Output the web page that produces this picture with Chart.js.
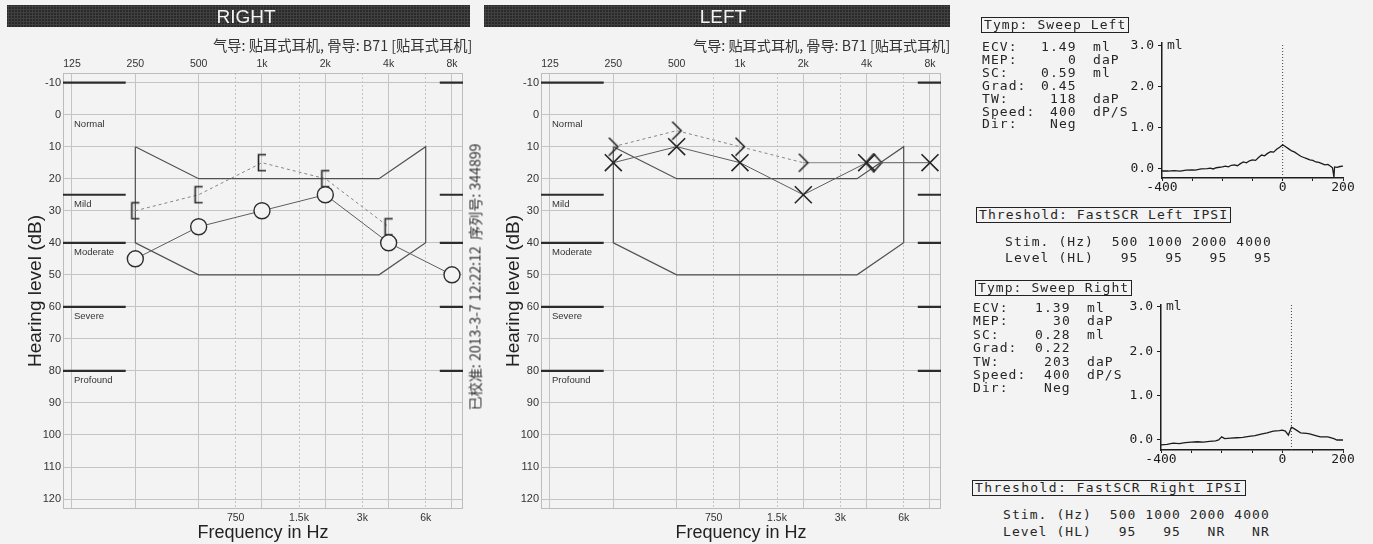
<!DOCTYPE html>
<html lang="zh">
<head>
<meta charset="utf-8">
<title>Audiogram and tympanogram</title>
<script src="https://cdn.jsdelivr.net/npm/chart.js@4.4.1/dist/chart.umd.min.js"></script>
<style>
  html, body { margin: 0; padding: 0; }
  body {
    position: relative; width: 1373px; height: 544px; overflow: hidden;
    background: #f3f3f3; color: #222;
    font-family: "Liberation Sans", Arial, sans-serif;
  }
  canvas { position: absolute; }
  .bar {
    position: absolute; top: 5px; height: 22px;
    background-color: #2a2a2a;
    background-image: radial-gradient(rgba(255,255,255,0.10) 1px, transparent 1.2px);
    background-size: 3px 3px;
  }
  .bar span {
    position: absolute; top: 0; line-height: 23px; font-size: 19px;
    color: #f2f2f2; transform: translateX(-50%);
  }
  .cjk {
    position: absolute; white-space: pre; color: #333;
    font-family: "Noto Sans CJK SC", sans-serif; font-size: 13px; line-height: 16px;
  }
  .mono {
    position: absolute; white-space: pre; color: #262626;
    font-family: "DejaVu Sans Mono", monospace; font-size: 13px;
    line-height: 14px; letter-spacing: 1.07px;
  }
  .box { border: 1.5px solid #222; padding: 0 2px; }
</style>
</head>
<body>
<canvas id="rightEar" width="480" height="544" style="left:0;top:0"></canvas>
<canvas id="leftEar" width="480" height="544" style="left:478px;top:0"></canvas>
<canvas id="tympLeft" width="250" height="170" style="left:1110px;top:30px"></canvas>
<canvas id="tympRight" width="251" height="180" style="left:1109px;top:292px"></canvas>

<div class="bar" style="left:7px;width:463px"><span style="left:239px">RIGHT</span></div>
<div class="bar" style="left:484px;width:466px"><span style="left:239px">LEFT</span></div>

<script>
// ---- audiogram data ----
const octaveFreqs = [125, 250, 500, 1000, 2000, 4000, 8000];
const octaveLabels = ['125', '250', '500', '1k', '2k', '4k', '8k'];
const midFreqs = [750, 1500, 3000, 6000];
const midLabels = ['750', '1.5k', '3k', '6k'];
const dbTicks = [-10, 0, 10, 20, 30, 40, 50, 60, 70, 80, 90, 100, 110, 120];

const testFreqs = [250, 500, 1000, 2000, 4000, 8000];
const rightAir = [45, 35, 30, 25, 40, 50];
const rightBoneFreqs = [250, 500, 1000, 2000, 4000];
const rightBone = [30, 25, 15, 20, 35];
const leftAir = [15, 10, 15, 25, 15, 15];
const leftBoneFreqs = [250, 500, 1000, 2000, 4000];
const leftBone = [10, 5, 10, 15, 15];
const leftBoneSymbols = ['>', '>', '>', '>', '<>'];

const degreeLines = [-10, 25, 40, 60, 80];
const degreeNames = ['Normal', 'Mild', 'Moderate', 'Severe', 'Profound'];
const degreeLabelDb = [0, 25, 40, 60, 80];

const bananaFreqs = [250, 500, 3600, 6000, 6000, 3600, 500, 250, 250];
const bananaDb = [10, 20, 20, 10, 40, 50, 50, 40, 10];

const subtitleText = '气导: 贴耳式耳机, 骨导: B71 [贴耳式耳机]';
const noteText = '已校准: 2013-3-7 12:22:12  序列号: 344899';

// ---- tympanogram data ----
const tympLeftPressure = [-400, -380, -360, -340, -320, -300, -290, -270, -250, -240, -230, -220, -200, -190,
  -180, -170, -160, -150, -140, -130, -120, -110, -100, -90, -80, -70, -60, -50, -40, -30, -20, -10, 0,
  10, 20, 30, 40, 50, 60, 70, 80, 90, 100, 110, 120, 130, 140, 150, 160, 165, 170, 172, 180, 190, 200];
const tympLeftVolume = [-0.05, -0.05, -0.04, -0.05, -0.03, -0.02, -0.03, 0.00, 0.01, 0.02, 0.00, 0.03, 0.05, 0.07,
  0.05, 0.09, 0.10, 0.08, 0.13, 0.17, 0.15, 0.20, 0.22, 0.21, 0.28, 0.34, 0.32, 0.38, 0.42, 0.41, 0.48, 0.53, 0.59,
  0.54, 0.49, 0.44, 0.41, 0.36, 0.31, 0.28, 0.25, 0.22, 0.21, 0.17, 0.16, 0.13, 0.10, 0.11, 0.06, 0.03, -0.20, 0.05, 0.04, 0.06, 0.07];
const tympLeftMep = 0;

const tympRightPressure = [-400, -380, -360, -340, -320, -300, -280, -260, -240, -220, -210, -200, -190, -170,
  -150, -130, -110, -90, -70, -50, -30, -10, 0, 10, 20, 30, 40, 60, 80, 90, 110, 125, 150, 170, 180, 200];
const tympRightVolume = [-0.11, -0.10, -0.07, -0.08, -0.06, -0.05, -0.04, -0.05, -0.03, -0.02, 0.00, 0.07, 0.03, 0.04,
  0.05, 0.06, 0.08, 0.10, 0.13, 0.16, 0.20, 0.21, 0.22, 0.20, 0.11, 0.29, 0.25, 0.16, 0.15, 0.14, 0.10, 0.07, 0.07, 0.03, 0.00, 0.00];
const tympRightMep = 30;

const tympXTicks = [-400, -300, -200, -100, 0, 100, 200];
const tympXLabelled = [-400, 0, 200];
const tympYTicks = [0, 1, 2, 3];

const tympLeftFields = [['ECV:', '1.49', 'ml'], ['MEP:', '0', 'daP'], ['SC:', '0.59', 'ml'], ['Grad:', '0.45', ''],
  ['TW:', '118', 'daP'], ['Speed:', '400', 'dP/S'], ['Dir:', 'Neg', '']];
const tympRightFields = [['ECV:', '1.39', 'ml'], ['MEP:', '30', 'daP'], ['SC:', '0.28', 'ml'], ['Grad:', '0.22', ''],
  ['TW:', '203', 'daP'], ['Speed:', '400', 'dP/S'], ['Dir:', 'Neg', '']];
const stimHz = [500, 1000, 2000, 4000];
const leftReflexHL = ['95', '95', '95', '95'];
const rightReflexHL = ['95', '95', 'NR', 'NR'];

// ---- helpers ----
const BG = '#f3f3f3';
const toOct = f => Math.log2(f / 125);
const X_MIN = -0.142, X_MAX = 6.174;

Chart.defaults.font.family = '"Liberation Sans", Arial, sans-serif';
Chart.defaults.color = '#333';

function symbolCanvas(w, h, draw) {
  const c = document.createElement('canvas');
  c.width = w; c.height = h;
  const g = c.getContext('2d');
  g.strokeStyle = '#262626';
  g.lineWidth = 1.6;
  g.beginPath();
  draw(g);
  g.stroke();
  return c;
}
const bracketSym = symbolCanvas(12, 19, g => { g.moveTo(10, 1.5); g.lineTo(2.5, 1.5); g.lineTo(2.5, 17.5); g.lineTo(10, 17.5); });
const chevronSym = symbolCanvas(14, 20, g => { g.moveTo(2.5, 1); g.lineTo(11.5, 10); g.lineTo(2.5, 19); });
const diamondSym = symbolCanvas(32, 20, g => { g.moveTo(23, 1); g.lineTo(31, 10); g.lineTo(23, 19); g.lineTo(15, 10); g.closePath(); });
const symbolMap = { '>': chevronSym, '<>': diamondSym };

const points = (freqs, vals) => freqs.map((f, i) => ({ x: toOct(f), y: vals[i] }));

// thick degree bars, their names and the plot frame
const degreePlugin = {
  id: 'degrees',
  beforeDatasetsDraw(chart) {
    const { ctx, chartArea: a, scales: { x, y } } = chart;
    ctx.save();
    ctx.strokeStyle = '#bcbcbc';
    ctx.lineWidth = 1;
    ctx.strokeRect(a.left + 0.5, a.top + 0.5, a.width - 1, a.height - 1);
    const xl = x.getPixelForValue(toOct(225));
    const xr = x.getPixelForValue(toOct(7000));
    ctx.strokeStyle = '#2c2c2c';
    ctx.lineWidth = 2.2;
    degreeLines.forEach(db => {
      const py = y.getPixelForValue(db);
      ctx.beginPath();
      ctx.moveTo(a.left, py); ctx.lineTo(xl, py);
      ctx.moveTo(xr, py); ctx.lineTo(a.right, py);
      ctx.stroke();
    });
    ctx.fillStyle = '#333';
    ctx.font = '9.5px "Liberation Sans", Arial, sans-serif';
    ctx.textBaseline = 'middle';
    degreeNames.forEach((name, i) => {
      ctx.fillText(name, a.left + 11, y.getPixelForValue(degreeLabelDb[i]) + 9.5);
    });
    ctx.restore();
  }
};

function makeAudiogram(id, datasets) {
  return new Chart(document.getElementById(id), {
    type: 'line',
    data: { datasets },
    options: {
      responsive: false,
      animation: false,
      events: [],
      layout: { padding: { left: 0, right: 17, top: 0, bottom: 0 } },
      plugins: { legend: { display: false }, tooltip: { enabled: false } },
      scales: {
        x: {
          type: 'linear', position: 'top', min: X_MIN, max: X_MAX,
          afterBuildTicks: s => { s.ticks = octaveFreqs.map(f => ({ value: toOct(f) })); },
          afterFit: s => { s.height = 73; },
          ticks: { callback: (v, i) => octaveLabels[i], font: { size: 10.5 }, padding: 3, maxRotation: 0, autoSkip: false },
          grid: { color: '#c4c4c4', drawTicks: false },
          border: { display: false }
        },
        xb: {
          type: 'linear', position: 'bottom', min: X_MIN, max: X_MAX,
          afterBuildTicks: s => { s.ticks = midFreqs.map(f => ({ value: toOct(f) })); },
          afterFit: s => { s.height = 35; },
          ticks: { callback: (v, i) => midLabels[i], font: { size: 10.5 }, padding: 3, maxRotation: 0, autoSkip: false },
          grid: { color: '#c4c4c4', drawTicks: false },
          border: { display: false, dash: [2, 2] },
          title: { display: true, text: 'Frequency in Hz', font: { size: 18 }, color: '#222', padding: { top: 0, bottom: 0 } }
        },
        y: {
          type: 'linear', reverse: true, min: -13, max: 123.1,
          afterBuildTicks: s => { s.ticks = dbTicks.map(v => ({ value: v })); },
          afterFit: s => { s.width = 63; },
          ticks: { font: { size: 11 }, padding: 2 },
          grid: { color: '#c4c4c4', drawTicks: false },
          border: { display: false },
          title: { display: true, text: 'Hearing level (dB)', font: { size: 19 }, color: '#222', padding: { top: 24, bottom: 0 } }
        }
      }
    },
    plugins: [degreePlugin]
  });
}

const bananaSet = () => ({
  data: points(bananaFreqs, bananaDb), borderColor: '#505050', borderWidth: 1.2,
  pointRadius: 0, order: 3, tension: 0
});

makeAudiogram('rightEar', [
  {
    data: points(testFreqs, rightAir), borderColor: '#5e5e5e', borderWidth: 1,
    pointStyle: 'circle', pointRadius: 8, pointBorderColor: '#2e2e2e', pointBorderWidth: 1.4,
    pointBackgroundColor: BG, order: 0
  },
  {
    data: points(rightBoneFreqs, rightBone), borderColor: '#858585', borderWidth: 1, borderDash: [3, 3],
    pointStyle: bracketSym, order: 1
  },
  bananaSet()
]);

makeAudiogram('leftEar', [
  {
    data: points(testFreqs, leftAir), borderColor: '#5e5e5e', borderWidth: 1,
    pointStyle: 'crossRot', pointRadius: 12, pointBorderColor: '#262626', pointBorderWidth: 1.6, order: 0
  },
  {
    data: points(leftBoneFreqs, leftBone), borderColor: '#858585', borderWidth: 1,
    segment: { borderDash: c => (c.p1DataIndex === leftBone.length - 1 ? [] : [3, 3]) },
    pointStyle: leftBoneSymbols.map(s => symbolMap[s]), order: 1
  },
  bananaSet()
]);

// ---- tympanograms ----
const mono = { family: '"DejaVu Sans Mono", monospace', size: 13, lineHeight: 1 };
const mlPlugin = {
  id: 'mlUnit',
  afterDraw(chart) {
    const { ctx, chartArea: a, scales: { y } } = chart;
    ctx.save();
    ctx.fillStyle = '#262626';
    ctx.font = '13px "DejaVu Sans Mono", monospace';
    ctx.textBaseline = 'middle';
    ctx.fillText('ml', a.left + 5, y.getPixelForValue(3));
    ctx.restore();
  }
};

function makeTymp(id, pressure, volume, mep, yMin, yMax) {
  return new Chart(document.getElementById(id), {
    type: 'line',
    data: {
      datasets: [
        { data: pressure.map((p, i) => ({ x: p, y: volume[i] })), borderColor: '#1c1c1c', borderWidth: 1.3, pointRadius: 0, tension: 0 },
        { data: [{ x: mep, y: yMin }, { x: mep, y: yMax }], borderColor: '#444', borderWidth: 1, borderDash: [1, 2], pointRadius: 0 }
      ]
    },
    options: {
      responsive: false,
      animation: false,
      events: [],
      layout: { padding: { top: 13, right: 17, left: 0, bottom: 0 } },
      plugins: { legend: { display: false }, tooltip: { enabled: false } },
      scales: {
        x: {
          type: 'linear', min: -400, max: 200,
          afterBuildTicks: s => { s.ticks = tympXTicks.map(v => ({ value: v })); },
          afterFit: s => { s.height = 22; },
          ticks: { callback: v => (tympXLabelled.includes(v) ? String(v) : ''), font: mono, color: '#1c1c1c', padding: 0, maxRotation: 0, autoSkip: false },
          grid: { drawOnChartArea: false, drawTicks: true, tickLength: 3, color: '#1c1c1c' },
          border: { color: '#1c1c1c', width: 1.5 }
        },
        y: {
          type: 'linear', min: yMin, max: yMax,
          afterBuildTicks: s => { s.ticks = tympYTicks.map(v => ({ value: v })); },
          afterFit: s => { s.width = 52; },
          ticks: { callback: v => v.toFixed(1), font: mono, color: '#1c1c1c', padding: 4 },
          grid: { drawOnChartArea: false, drawTicks: true, tickLength: 4, color: '#1c1c1c' },
          border: { color: '#1c1c1c', width: 1.5 }
        }
      }
    },
    plugins: [mlPlugin]
  });
}

makeTymp('tympLeft', tympLeftPressure, tympLeftVolume, tympLeftMep, -0.22, 3.07);
makeTymp('tympRight', tympRightPressure, tympRightVolume, tympRightMep, -0.226, 3.045);

// ---- text ----
function addEl(cls, text, style) {
  const el = document.createElement('div');
  el.className = cls;
  el.textContent = text;
  Object.assign(el.style, style);
  document.body.appendChild(el);
  return el;
}
function fitFont(el, target) {
  const size = parseFloat(getComputedStyle(el).fontSize);
  el.style.fontSize = (size * target / el.offsetWidth).toFixed(2) + 'px';
}

// subtitles, right aligned above each audiogram
[[472, 259], [950, 257]].forEach(([right, w]) => {
  const el = addEl('cjk', subtitleText, { top: '37px' });
  fitFont(el, w);
  el.style.left = (right - el.offsetWidth) + 'px';
});

// vertical calibration note
{
  const el = addEl('cjk', noteText, {});
  fitFont(el, 267);
  el.style.left = (474 - el.offsetWidth / 2) + 'px';
  el.style.top = (277 - el.offsetHeight / 2) + 'px';
  el.style.transform = 'rotate(-90deg)';
}

function infoBlock(fields, x, valRight, unitX, y0, dy) {
  fields.forEach(([label, value, unit], i) => {
    const top = (y0 + dy * i - 7) + 'px';
    addEl('mono', label, { left: x + 'px', top });
    const v = addEl('mono', value, { top });
    v.style.left = (valRight - v.offsetWidth) + 'px';
    if (unit) addEl('mono', unit, { left: unitX + 'px', top });
  });
}
function thresholdRows(levels, x, y1, y2) {
  addEl('mono', 'Stim. (Hz)' + stimHz.map(v => String(v).padStart(5)).join(''), { left: x + 'px', top: (y1 - 7) + 'px' });
  addEl('mono', 'Level (HL)' + levels.map(v => v.padStart(5)).join(''), { left: x + 'px', top: (y2 - 7) + 'px' });
}

addEl('mono box', 'Tymp: Sweep Left', { left: '981px', top: '17px' });
infoBlock(tympLeftFields, 982, 1077, 1093, 47, 12.9);
addEl('mono box', 'Threshold: FastSCR Left IPSI', { left: '976px', top: '207px' });
thresholdRows(leftReflexHL, 1005, 242, 258);

addEl('mono box', 'Tymp: Sweep Right', { left: '975px', top: '280px' });
infoBlock(tympRightFields, 973, 1071, 1087, 308, 13.4);
addEl('mono box', 'Threshold: FastSCR Right IPSI', { left: '972px', top: '480px', letterSpacing: '1.4px' });
thresholdRows(rightReflexHL, 1003, 515, 532);
</script>
</body>
</html>
